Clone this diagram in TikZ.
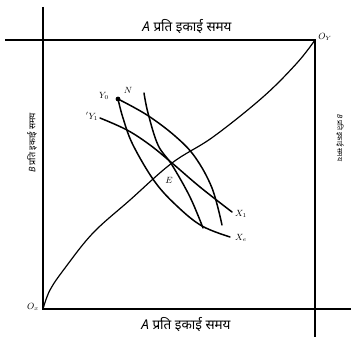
\documentclass[tikz,border=0pt]{standalone}
\usepackage{fontspec}
\newfontfamily\hindi[Script=Devanagari]{Noto Sans}
\begin{document}
\begin{tikzpicture}[x=1pt,y=-1pt,
  axis/.style={line width=1.4pt},
  curve/.style={line width=1.5pt,line cap=round},
  lbl/.style={font=\small\itshape,inner sep=0pt},
  hlbl/.style={inner sep=0pt}]
\useasboundingbox (0,0) rectangle (351,337);
% frame
\coordinate (Ox) at (43,309);
\coordinate (Oy) at (315,40);
\coordinate (Ltop) at (43,7);
\coordinate (Tleft) at (5,40);
\coordinate (Rbot) at (315,337);
\coordinate (Bright) at (351,309);
\draw[axis] (Ltop) -- (Ox) -- (Bright);
\draw[axis] (Tleft) -- (Oy) -- (Rbot);
% labels
\node[hlbl,font=\hindi\fontsize{13.5}{15}\selectfont] (top) at (187,27) {\textit{A} प्रति इकाई समय};
\node[hlbl,font=\hindi\fontsize{13.5}{15}\selectfont] (bot) at (186,325) {\textit{A} प्रति इकाई समय};
\node[hlbl,rotate=90,font=\hindi\fontsize{9}{11}\selectfont] (left) at (32,143) {\textit{B} प्रति इकाई समय};
\node[hlbl,rotate=-90,font=\hindi\fontsize{7}{9}\selectfont] (right) at (340,138) {\textit{B} प्रति इकाई समय};
\node[lbl] (oxl) at (33,307) {$O_x$};
\node[lbl] (oyl) at (325,37) {$O_Y$};
% contract curve
\draw[curve,line width=1.2pt] plot[smooth,tension=0.6] coordinates {(43,309) (50,290) (65,268) (93,233) (130,200) (172,163) (213,137) (263,97) (297,63) (315,40)};
% indifference curves
\coordinate (Y0) at (118,99);
\draw[curve] plot[smooth,tension=0.6] coordinates {(118,99) (147,115) (175,136) (195,157) (212,188) (222,225)};
\draw[curve] plot[smooth,tension=0.6] coordinates {(118,99) (123,118) (133,145) (155,182) (178,207) (202,226) (230,237)};
\draw[curve] plot[smooth,tension=0.6] coordinates {(144,93) (148,113) (158,145) (172,165) (190,197) (203,228)};
\draw[curve] plot[smooth,tension=0.6] coordinates {(100,118) (127,130) (150,145) (172,163) (200,187) (232,212)};
\fill (Y0) circle (2.4);
\node[lbl] (y0l) at (104,96) {$Y_0$};
\node[lbl] (nl) at (128,90) {$N$};
\node[lbl] (y1l) at (92,116) {${}'Y_1$};
\node[lbl] (x1l) at (241,214) {$X_1$};
\node[lbl] (xel) at (241,238) {$X_e$};
\node[lbl] (el) at (169,180) {$E$};
\end{tikzpicture}
\end{document}
